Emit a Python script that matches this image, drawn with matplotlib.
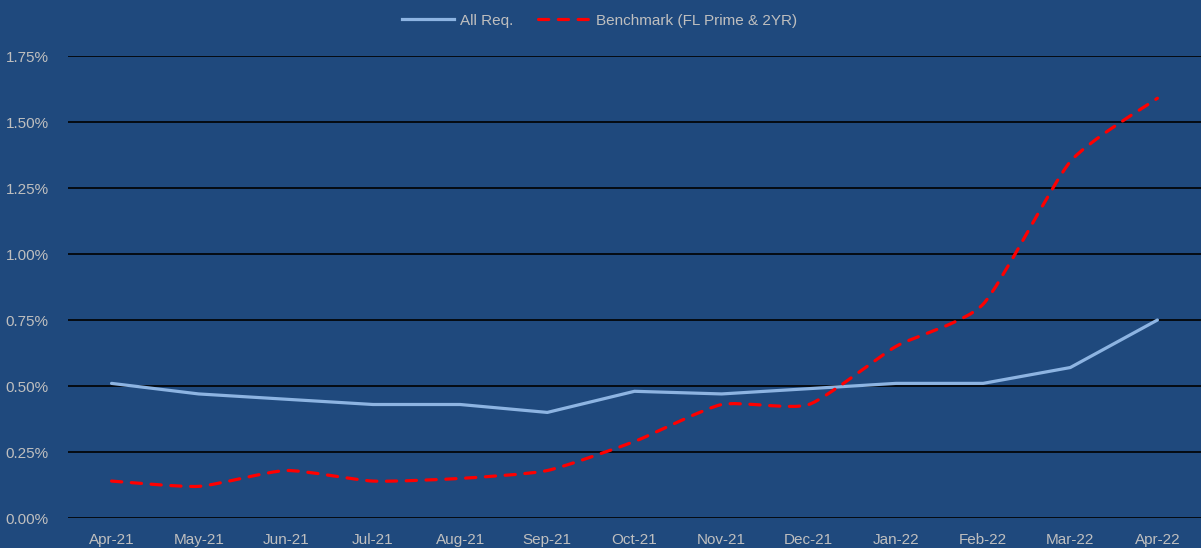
import matplotlib
matplotlib.use("Agg")
import matplotlib.pyplot as plt
from matplotlib.path import Path
from matplotlib.patches import PathPatch
from matplotlib.lines import Line2D
from matplotlib.ticker import FuncFormatter

months = ["Apr-21", "May-21", "Jun-21", "Jul-21", "Aug-21", "Sep-21", "Oct-21",
          "Nov-21", "Dec-21", "Jan-22", "Feb-22", "Mar-22", "Apr-22"]
all_req = [0.51, 0.47, 0.45, 0.43, 0.43, 0.40, 0.48, 0.47, 0.49, 0.51, 0.51, 0.57, 0.75]
benchmark = [0.14, 0.12, 0.18, 0.14, 0.15, 0.18, 0.29, 0.43, 0.43, 0.65, 0.81, 1.35, 1.59]

BG = "#1F497D"
TXT = "#BFBFBF"
SOLID = "#8DB4E2"
RED = "#FF0000"
FS = 11

plt.rcParams["font.family"] = ["Liberation Sans", "DejaVu Sans"]


def smooth_path(xs, ys, k=0.1):
    # smoothed line like Excel's: cubic bezier through every point
    n = len(xs)
    verts = [(xs[0], ys[0])]
    codes = [Path.MOVETO]
    for i in range(n - 1):
        x0, y0 = xs[max(i - 1, 0)], ys[max(i - 1, 0)]
        x1, y1 = xs[i], ys[i]
        x2, y2 = xs[i + 1], ys[i + 1]
        x3, y3 = xs[min(i + 2, n - 1)], ys[min(i + 2, n - 1)]
        c1 = (x1 + (x2 - x0) * k, y1 + (y2 - y0) * k)
        c2 = (x2 - (x3 - x1) * k, y2 - (y3 - y1) * k)
        verts += [c1, c2, (x2, y2)]
        codes += [Path.CURVE4] * 3
    return Path(verts, codes)


fig = plt.figure(figsize=(12.01, 5.48), dpi=100, facecolor=BG)
ax = fig.add_axes([0.0566, 0.0547, 0.9434, 0.8431], facecolor=BG)

x = list(range(len(months)))
ax.plot(x, all_req, color=SOLID, lw=2.3, solid_capstyle="round", zorder=3)

dash = (0, (3.2, 3.0))
patch = PathPatch(smooth_path(x, benchmark), facecolor="none", edgecolor=RED,
                  lw=2.3, linestyle=dash, capstyle="round", zorder=4)
ax.add_patch(patch)

ax.set_xlim(-0.5, len(months) - 0.5)
ax.set_ylim(0, 1.75)
ax.set_yticks([0, 0.25, 0.5, 0.75, 1.0, 1.25, 1.5, 1.75])
ax.yaxis.set_major_formatter(FuncFormatter(lambda v, p: f"{v:.2f}%"))
ax.set_xticks(x)
ax.set_xticklabels(months)
ax.grid(axis="y", color="black", lw=1.2, zorder=1)
ax.set_axisbelow(True)
for s in ax.spines.values():
    s.set_visible(False)
ax.tick_params(length=0, colors=TXT, labelsize=FS)
ax.tick_params(axis="y", pad=14)
ax.tick_params(axis="x", pad=11)

handles = [Line2D([], [], color=SOLID, lw=2.3),
           Line2D([], [], color=RED, lw=2.3, linestyle=dash, dash_capstyle="round")]
fig.legend(handles, ["All Req.", "Benchmark (FL Prime & 2YR)"], loc="upper center",
           bbox_to_anchor=(0.499, 1.0), ncol=2, frameon=False, handlelength=3.4,
           columnspacing=1.6, handletextpad=0.4, labelcolor=TXT, fontsize=FS)

fig.savefig("out.png", dpi=100, facecolor=BG)
